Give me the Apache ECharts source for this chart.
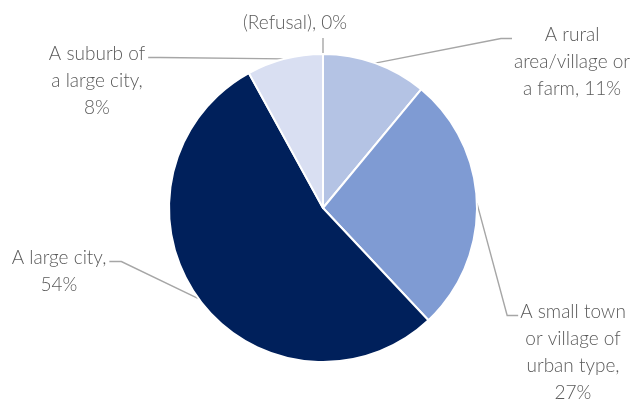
<!DOCTYPE html>
<html>
<head>
<meta charset="utf-8">
<script src="https://cdn.jsdelivr.net/npm/echarts@6.0.0/dist/echarts.min.js"></script>
<style>
  html, body { margin: 0; padding: 0; background: #ffffff; }
  #chart { width: 633px; height: 402px; }
</style>
</head>
<body>
<div id="chart"></div>
<script>
// Type of place of residence, share of respondents (%)
const categories = [
  'A rural\narea/village or\na farm',
  'A small town\nor village of\nurban type',
  'A large city',
  'A suburb of\na large city',
  '(Refusal)'
];
const shares = [11, 27, 54, 8, 0];
// whether the percentage goes on its own line under the name
const valueOnNewLine = [false, true, true, true, false];

const sliceColors = ['#b4c3e4', '#7f9bd3', '#00205b', '#d9dff2', '#ffffff'];

// label block placement: [centre x, top y]
const labelPlacement = [
  [572, 21],
  [573, 298],
  [59, 244],
  [97, 40],
  [295, 9]
];

const FONT_SIZE = 19;
const LINE_H = 27;
const PIE_CENTER = [323, 208];
const PIE_RADIUS = 154;

// point on the rim at the middle of slice i (clockwise from 12 o'clock)
function rimMidPoint(i) {
  const total = shares.reduce(function (a, b) { return a + b; }, 0);
  let before = 0;
  for (let k = 0; k < i; k++) before += shares[k];
  const ang = 2 * Math.PI * (before + shares[i] / 2) / total;
  return [PIE_CENTER[0] + PIE_RADIUS * Math.sin(ang), PIE_CENTER[1] - PIE_RADIUS * Math.cos(ang)];
}

const chart = echarts.init(document.getElementById('chart'), null, { renderer: 'canvas' });

chart.setOption({
  backgroundColor: '#ffffff',
  animation: false,
  series: [{
    type: 'pie',
    center: PIE_CENTER,
    radius: [0, PIE_RADIUS],
    startAngle: 90,
    clockwise: true,
    avoidLabelOverlap: false,
    itemStyle: { borderColor: '#ffffff', borderWidth: 2 },
    label: {
      show: true,
      position: 'outside',
      fontFamily: '"Lato Light", Lato, "Open Sans", sans-serif',
      fontWeight: 300,
      fontSize: FONT_SIZE,
      lineHeight: LINE_H,
      color: '#5a5a5a',
      align: 'center',
      formatter: function (p) {
        return p.name + ',' + (valueOnNewLine[p.dataIndex] ? '\n' : ' ') + p.value + '%';
      }
    },
    labelLine: {
      show: true,
      smooth: false,
      lineStyle: { color: '#a6a6a6', width: 1.4 }
    },
    labelLayout: function (params) {
      const i = params.dataIndex;
      const cx = labelPlacement[i][0];
      const top = labelPlacement[i][1];
      const w = params.labelRect.width;
      const h = params.labelRect.height;
      const start = rimMidPoint(i);
      const lineY = top + LINE_H / 2 + 4;
      let pts;
      if (cx - w / 2 > start[0] + 20) {
        // label on the right of the pie
        const endX = cx - w / 2 - 2;
        pts = [start, [endX - 11, lineY], [endX, lineY]];
      } else if (cx + w / 2 < start[0] - 20) {
        // label on the left of the pie
        const endX = cx + w / 2 + 3;
        pts = [start, [endX + 12, lineY], [endX, lineY]];
      } else {
        // label straight above
        const endY = top + h + 2;
        pts = [start, [start[0], endY], [start[0], endY]];
      }
      return {
        x: cx,
        y: top,
        align: 'center',
        verticalAlign: 'top',
        labelLinePoints: pts
      };
    },
    data: categories.map(function (name, i) {
      return { name: name, value: shares[i], itemStyle: { color: sliceColors[i] } };
    })
  }]
});
</script>
</body>
</html>
